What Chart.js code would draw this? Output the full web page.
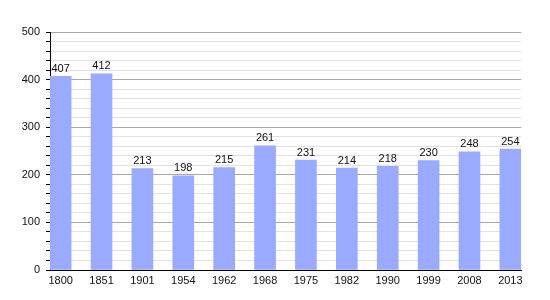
<!DOCTYPE html>
<html>
<head>
<meta charset="utf-8">
<script src="https://cdn.jsdelivr.net/npm/chart.js@4"></script>
<style>
  body { margin: 0; background: #fff; }
  #wrap { width: 550px; height: 300px; }
</style>
</head>
<body>
<div id="wrap"><canvas id="chart" width="550" height="300"></canvas></div>
<script>
// population by census year
const years = ['1800', '1851', '1901', '1954', '1962', '1968', '1975', '1982', '1990', '1999', '2008', '2013'];
const population = [407, 412, 213, 198, 215, 261, 231, 214, 218, 230, 248, 254];
const yTicks = [0, 100, 200, 300, 400, 500];

const FONT = { family: "'Liberation Sans', Arial, sans-serif", size: 11 };

// value labels above each bar
const barLabels = {
    id: 'barLabels',
    afterDatasetsDraw(chart) {
        const ctx = chart.ctx;
        const meta = chart.getDatasetMeta(0);
        ctx.save();
        ctx.font = FONT.size + 'px ' + FONT.family;
        ctx.fillStyle = '#111';
        ctx.textAlign = 'center';
        ctx.textBaseline = 'bottom';
        meta.data.forEach((bar, i) => {
            ctx.fillText(String(population[i]), bar.x, bar.y - 2);
        });
        ctx.restore();
    }
};

new Chart(document.getElementById('chart'), {
    type: 'bar',
    data: {
        datasets: [{
            data: population.map((v, i) => ({ x: i, y: v })),
            backgroundColor: '#99aaff',
            borderWidth: 0,
            barThickness: 21,
        }]
    },
    options: {
        responsive: false,
        animation: false,
        layout: { padding: { left: 0, right: 29, top: 32, bottom: 0 } },
        plugins: { legend: { display: false }, tooltip: { enabled: false } },
        scales: {
            x: {
                type: 'linear',
                bounds: 'data',
                min: -0.26,
                max: 11.26,
                offset: false,
                afterBuildTicks: (scale) => { scale.ticks = years.map((_, i) => ({ value: i })); },
                afterFit: (scale) => { scale.height = 30; },
                grid: { display: false, drawTicks: false },
                border: { display: true, color: '#000', width: 1 },
                ticks: {
                    autoSkip: false, maxRotation: 0, padding: 4,
                    color: '#111', font: FONT,
                    callback: (v) => years[v] ?? ''
                }
            },
            y: {
                min: 0,
                max: 500,
                afterFit: (scale) => { scale.width = 50; },
                grid: {
                    color: (c) => c.tick && c.tick.value % 100 === 0 ? '#a8a8a8' : '#e2e2e2',
                    tickColor: '#000',
                    tickLength: 4,
                    drawTicks: true
                },
                border: { display: true, color: '#000', width: 1 },
                ticks: {
                    stepSize: 20, autoSkip: false, padding: 6,
                    color: '#111', font: FONT,
                    callback: (v) => yTicks.includes(v) ? v : ''
                }
            }
        }
    },
    plugins: [barLabels]
});
</script>
</body>
</html>
